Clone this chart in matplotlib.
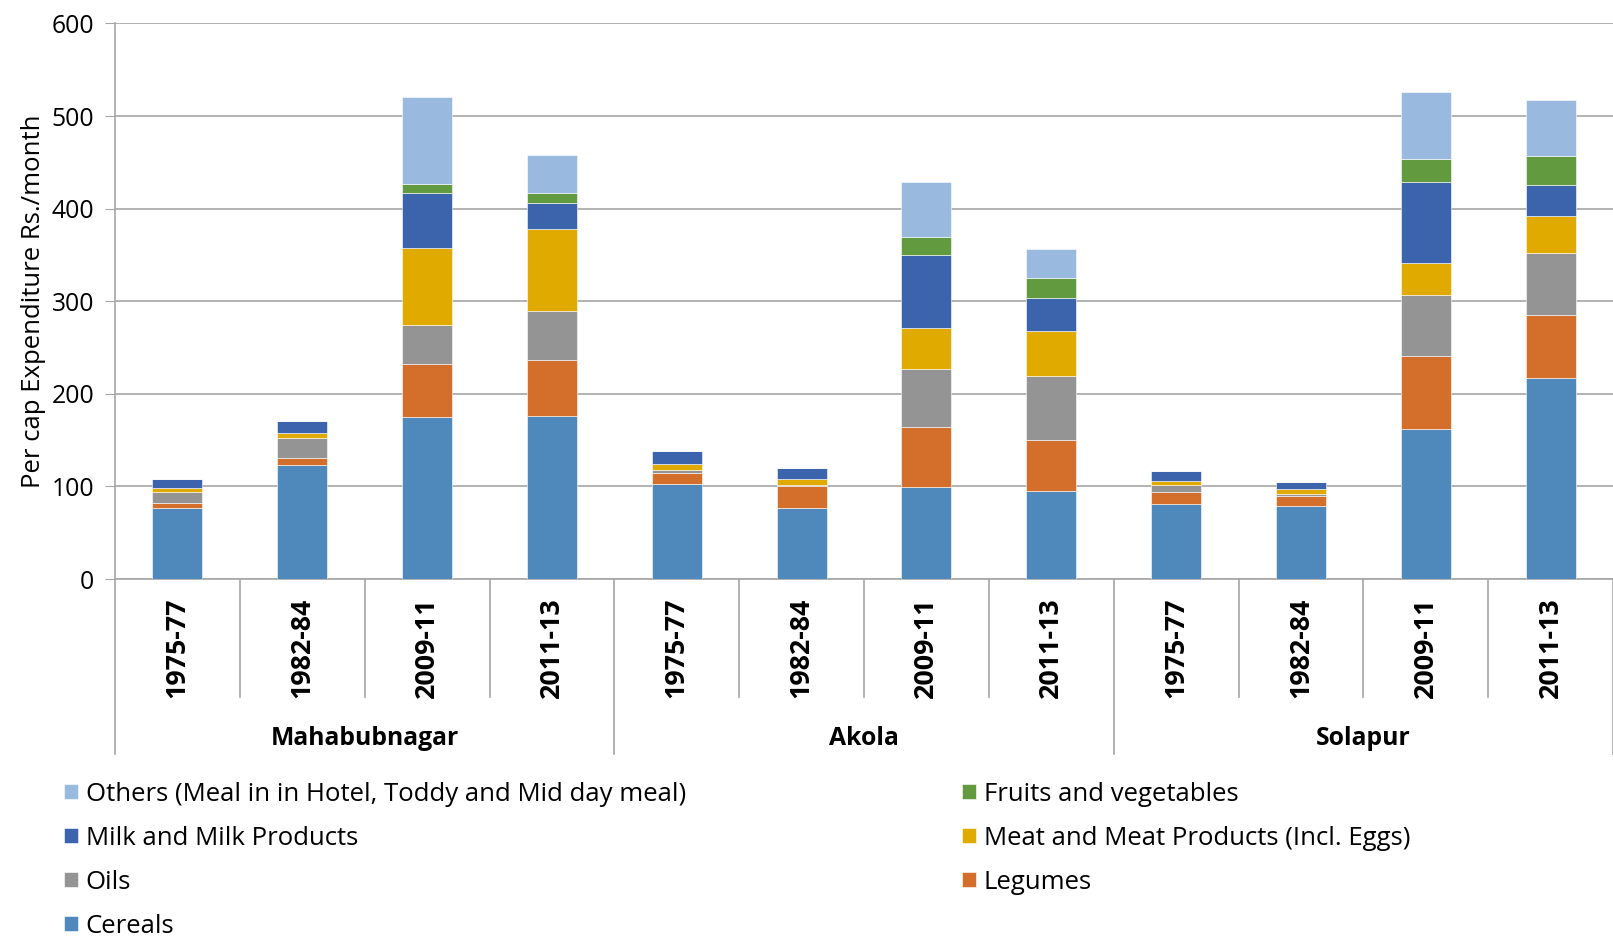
import matplotlib.pyplot as plt
import matplotlib.patches as patches
import numpy as np

plt.rcParams['font.family'] = ['Open Sans', 'DejaVu Sans']

# categories
districts = ['Mahabubnagar', 'Akola', 'Solapur']
years = ['1975-77', '1982-84', '2009-11', '2011-13']

# values (Rs./month), order per district: 1975-77, 1982-84, 2009-11, 2011-13
cereals = [77, 123, 175, 176, 103, 77, 99, 95, 81, 79, 162, 217]
legumes = [5.5, 8, 57, 61, 11, 23, 65, 55, 13, 11, 79, 68]
oils = [11.5, 21.5, 42, 52, 3.5, 1.5, 62.5, 69.5, 7.5, 2, 66, 67]
meat = [4, 5, 83, 89, 7, 6, 44, 48.5, 4, 5.5, 34, 40]
milk = [9.5, 13.5, 60, 28, 13.5, 12, 79, 35.5, 11, 7, 88, 33.5]
fruits = [0, 0, 10, 11, 0, 0, 20, 22, 0, 0, 25, 31]
others = [0, 0, 93, 41, 0, 0, 59, 31, 0, 0, 72, 60.5]

series = [
    ('Cereals', cereals, '#4f89bc'),
    ('Legumes', legumes, '#d36f2b'),
    ('Oils', oils, '#949494'),
    ('Meat and Meat Products (Incl. Eggs)', meat, '#e1aa00'),
    ('Milk and Milk Products', milk, '#3c64ac'),
    ('Fruits and vegetables', fruits, '#629a3f'),
    ('Others (Meal in in Hotel, Toddy and Mid day meal)', others, '#99b9df'),
]

fig = plt.figure(figsize=(16.13, 9.371), dpi=100)
ax = fig.add_axes([0.0713, 0.382, 0.9287, 0.593])

x = np.arange(len(cereals))
bottom = np.zeros(len(x))
handles = {}
for name, vals, color in series:
    vals = np.array(vals, dtype=float)
    b = ax.bar(x, vals, 0.4, bottom=bottom, color=color, edgecolor='white',
               linewidth=0.4, zorder=3, label=name)
    handles[name] = b
    bottom += vals

ax.set_xlim(-0.5, len(x) - 0.5)
ax.set_ylim(0, 600)
ax.set_yticks(range(0, 601, 100))
ax.yaxis.grid(True, color='#a6a6a6', linewidth=1.2, zorder=0)
ax.tick_params(axis='y', labelsize=17.8, length=7, color='#a6a6a6', pad=8)
ax.set_xticks([])
ax.set_ylabel('Per cap Expenditure Rs./month', fontsize=18.5, labelpad=4)

for side in ['top', 'right']:
    ax.spines[side].set_visible(False)
ax.spines['left'].set_color('#a6a6a6')
ax.spines['bottom'].set_color('#a6a6a6')
ax.spines['left'].set_linewidth(1.2)
ax.spines['bottom'].set_linewidth(1.2)

# multi-level category axis
trans = ax.get_xaxis_transform()
for i in range(len(x) + 1):
    pos = i - 0.5
    low = -0.315 if i % 4 == 0 else -0.2124
    ax.plot([pos, pos], [0, low], transform=trans, color='#a6a6a6',
            linewidth=1.2, clip_on=False)
for i in x:
    ax.text(i, -0.124, years[i % 4], transform=trans, rotation=90,
            ha='center', va='center', fontsize=19.3, fontweight='bold')
for j, d in enumerate(districts):
    ax.text(j * 4 + 1.5, -0.287, d, transform=trans, ha='center',
            va='center', fontsize=17.8, fontweight='bold')

# legend in two columns
col1 = ['Others (Meal in in Hotel, Toddy and Mid day meal)', 'Milk and Milk Products', 'Oils', 'Cereals']
col2 = ['Fruits and vegetables', 'Meat and Meat Products (Incl. Eggs)', 'Legumes']
for names, xpos in [(col1, 0.0395), (col2, 0.5965)]:
    leg = fig.legend([handles[n] for n in names], names, loc='upper left',
                     bbox_to_anchor=(xpos, 0.166), frameon=False, fontsize=18.5,
                     handlelength=0.55, handleheight=0.55, handletextpad=0.3,
                     labelspacing=0.74, borderaxespad=0, borderpad=0)

fig.savefig('out.png', dpi=100)
